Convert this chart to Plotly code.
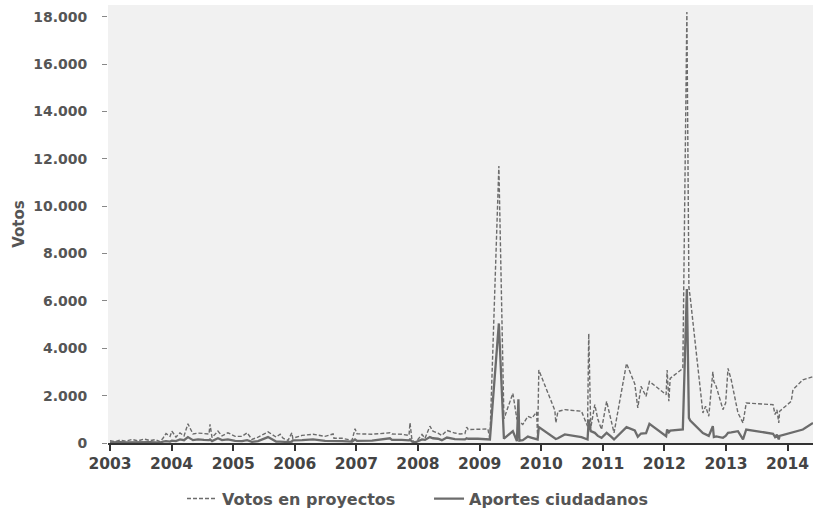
import plotly.graph_objects as go

dates = [
    "2003-01-01", "2003-01-31", "2003-03-01", "2003-04-05", "2003-05-11", "2003-06-16",
    "2003-07-22", "2003-08-26", "2003-09-25", "2003-10-25", "2003-11-11", "2003-11-29",
    "2003-12-23", "2004-01-03", "2004-01-27", "2004-02-20", "2004-03-15", "2004-04-07",
    "2004-05-07", "2004-06-06", "2004-07-11", "2004-08-10", "2004-08-16", "2004-08-28",
    "2004-10-02", "2004-10-26", "2004-11-30", "2005-01-12", "2005-02-22", "2005-03-24",
    "2005-04-22", "2005-05-28", "2005-07-26", "2005-09-12", "2005-10-06", "2005-10-23",
    "2005-11-22", "2005-12-14", "2005-12-20", "2006-02-13", "2006-04-19", "2006-06-29",
    "2006-08-16", "2006-08-21", "2006-10-08", "2006-12-06", "2006-12-24", "2007-01-05",
    "2007-04-04", "2007-07-19", "2007-07-31", "2007-09-28", "2007-11-09", "2007-11-15",
    "2007-11-27", "2007-12-14", "2008-01-01", "2008-01-25", "2008-02-12", "2008-03-12",
    "2008-03-30", "2008-04-29", "2008-05-22", "2008-06-21", "2008-08-07", "2008-09-06",
    "2008-10-06", "2008-10-16", "2008-10-25", "2008-12-22", "2009-02-19", "2009-03-03",
    "2009-04-25", "2009-05-25", "2009-07-17", "2009-08-10", "2009-08-19", "2009-08-25",
    "2009-09-14", "2009-10-14", "2009-11-07", "2009-12-05", "2009-12-11", "2009-12-18",
    "2010-03-23", "2010-03-29", "2010-04-10", "2010-05-21", "2010-08-28", "2010-10-03",
    "2010-10-10", "2010-10-22", "2010-11-15", "2010-12-03", "2010-12-25", "2011-01-24",
    "2011-02-18", "2011-03-09", "2011-05-22", "2011-07-10", "2011-07-28", "2011-08-16",
    "2011-09-15", "2011-10-05", "2012-01-12", "2012-01-18", "2012-01-28", "2012-02-05",
    "2012-04-20", "2012-05-14", "2012-05-26", "2012-06-03", "2012-08-17", "2012-09-02",
    "2012-09-21", "2012-10-15", "2012-10-21", "2012-11-04", "2012-12-14", "2012-12-30",
    "2013-01-13", "2013-02-01", "2013-03-13", "2013-04-12", "2013-05-01", "2013-10-07",
    "2013-10-19", "2013-10-30", "2013-11-10", "2013-11-15", "2014-01-23", "2014-02-02",
    "2014-04-02", "2014-06-01",
]

votos_proyectos = [
    100, 60, 120, 80, 150, 90,
    170, 100, 140, 60, 200, 400,
    280, 500, 250, 430, 300, 810,
    380, 420, 400, 380, 790, 230,
    500, 300, 430, 280, 280, 430,
    150, 250, 470, 250, 370, 200,
    110, 430, 200, 320, 370, 280,
    380, 200, 200, 110, 600, 390,
    370, 430, 380, 370, 320, 850,
    110, 40, 150, 360, 200, 710,
    500, 420, 320, 530, 420, 380,
    400, 670, 570, 580, 590, 150,
    11700, 1020, 2100, 1000, 1100, 900,
    780, 1130, 1050, 1310, 220, 3080,
    1380, 850, 1330, 1410, 1340, 710,
    4620, 640, 1620, 1000, 570, 1760,
    1000, 430, 3360, 2500, 1480, 2390,
    1970, 2600, 2040, 3080, 1760, 2730,
    3150, 18200, 6570, 6150, 1270, 1550,
    1130, 3010, 2600, 2390, 1410, 1690,
    3150, 2670, 1270, 850, 1690, 1620,
    1200, 1400, 850, 1340, 1760, 2250,
    2670, 2800,
]

aportes_ciudadanos = [
    30, 20, 40, 30, 40, 30,
    50, 40, 30, 20, 60, 80,
    60, 100, 80, 150, 120, 250,
    120, 150, 130, 120, 150, 80,
    200, 120, 150, 90, 80, 120,
    50, 80, 250, 60, 60, 50,
    40, 60, 110, 120, 150, 90,
    100, 80, 80, 60, 150, 90,
    100, 200, 130, 130, 110, 150,
    60, 20, 80, 150, 130, 250,
    200, 180, 120, 230, 160, 150,
    150, 200, 180, 180, 180, 150,
    5050, 180, 500, 80, 1850, 100,
    120, 270, 220, 150, 150, 670,
    180, 170, 200, 360, 250, 150,
    990, 500, 430, 300, 220, 430,
    280, 150, 670, 530, 260, 400,
    420, 810, 290, 570, 450, 520,
    570, 6500, 1060, 950, 420, 360,
    300, 710, 250, 280, 220, 300,
    430, 450, 500, 150, 570, 390,
    250, 350, 150, 300, 430, 450,
    570, 850,
]

year_ticks = ["2003", "2004", "2005", "2006", "2007", "2008", "2009",
              "2010", "2011", "2012", "2013", "2014"]

LINE = "#6c6c6c"
TXT = "#555555"
FONT = "DejaVu Sans"

fig = go.Figure()
fig.add_trace(go.Scatter(
    x=dates, y=votos_proyectos, mode="lines", name="Votos en proyectos",
    line=dict(color=LINE, width=1.4, dash="4px,2px"),
))
fig.add_trace(go.Scatter(
    x=dates, y=aportes_ciudadanos, mode="lines", name="Aportes ciudadanos",
    line=dict(color=LINE, width=2.3),
))

fig.update_layout(
    width=813, height=516,
    margin=dict(l=108, r=0, t=5, b=69),
    paper_bgcolor="white",
    plot_bgcolor="#f1f1f1",
    separators=",.",
    showlegend=True,
    legend=dict(
        orientation="h", x=0.105, xanchor="left", y=-0.127, yanchor="middle",
        font=dict(family=FONT, size=16, color=TXT, weight="bold"),
        entrywidth=202, itemwidth=30,
    ),
    xaxis=dict(
        type="date",
        automargin=False,
        range=["2002-12-20", "2014-06-01"],
        tickvals=[y + "-01-01" for y in year_ticks],
        ticktext=year_ticks,
        showgrid=False, zeroline=False,
        showline=True, linecolor="#333333", linewidth=1.5,
        ticks="outside", ticklen=6, tickwidth=1.5, tickcolor="#333333",
        tickfont=dict(family=FONT, size=15.5, color="#444444", weight="bold"),
    ),
    yaxis=dict(
        automargin=False,
        range=[0, 18500],
        tickvals=[0, 2000, 4000, 6000, 8000, 10000, 12000, 14000, 16000, 18000],
        tickformat=",d",
        showgrid=False, zeroline=False, showline=False,
        ticks="outside", ticklen=5, tickwidth=1, tickcolor="#888888",
        ticklabelstandoff=12,
        tickfont=dict(family=FONT, size=14, color=TXT, weight="bold"),
        title=dict(text="Votos", standoff=4,
                   font=dict(family=FONT, size=15, color=TXT, weight="bold")),
    ),
)

fig.write_html(
    "out.html",
    config={"displayModeBar": False},
    post_script="document.body.style.margin='0';document.body.style.overflow='hidden';",
)
